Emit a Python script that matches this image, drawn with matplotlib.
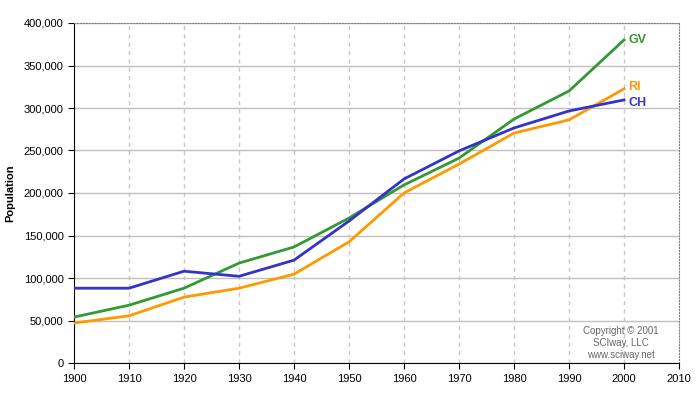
import matplotlib
matplotlib.use('Agg')
import matplotlib.pyplot as plt
from matplotlib.ticker import FuncFormatter

plt.rcParams['font.family'] = ['Liberation Sans', 'DejaVu Sans']

years = [1900, 1910, 1920, 1930, 1940, 1950, 1960, 1970, 1980, 1990, 2000]
gv = [54000, 68000, 88000, 117500, 136500, 170500, 209500, 241000, 287000, 320000, 380000]
ri = [47000, 55500, 77500, 88000, 104500, 142500, 200000, 234000, 270500, 286000, 322500]
ch = [88000, 88000, 108000, 102000, 121000, 167000, 216500, 249500, 276500, 296500, 309500]

fig = plt.figure(figsize=(7, 4), dpi=100)
ax = fig.add_axes([74/700, 37/400, 605/700, 340/400])

ax.plot(years, gv, color='#339933', lw=2, zorder=3)
ax.plot(years, ri, color='#ff9900', lw=2, zorder=3)
ax.plot(years, ch, color='#3333cc', lw=2, zorder=3)

ax.set_xlim(1900, 2010)
ax.set_ylim(0, 400000)
ax.set_xticks(range(1900, 2011, 10))
ax.set_yticks(range(0, 400001, 50000))
ax.yaxis.set_major_formatter(FuncFormatter(lambda v, p: '{:,.0f}'.format(v)))
ax.tick_params(labelsize=8, length=4, direction='out', color='black')
ax.tick_params(axis='x', pad=4)

ax.grid(axis='y', color='#c0c0c0', lw=1, ls='-')
for x in range(1910, 2010, 10):
    ax.axvline(x, color='#c8c8c8', lw=1, ls=(0, (3, 3)), zorder=1)

ax.spines['left'].set_color('black')
ax.spines['bottom'].set_color('black')
ax.spines['top'].set_color('#808080')
ax.spines['top'].set_linestyle(':')
ax.spines['right'].set_color('#808080')
ax.spines['right'].set_linestyle(':')

ax.set_ylabel('Population', fontsize=8, fontweight='bold', labelpad=6)

ax.text(2000.8, gv[-1], 'GV', color='#339933', fontsize=9, fontweight='bold', va='center')
ax.text(2000.8, ri[-1] + 2000, 'RI', color='#ff9900', fontsize=9, fontweight='bold', va='center')
ax.text(2000.8, ch[-1] - 4000, 'CH', color='#3333cc', fontsize=9, fontweight='bold', va='center')

ax.text(1999.5, 3000, 'Copyright \u00a9 2001\nSCIway, LLC\nwww.sciway.net', fontsize=7,
        color='#666666', ha='center', va='bottom', linespacing=1.25)

fig.savefig('out.png', dpi=100)
